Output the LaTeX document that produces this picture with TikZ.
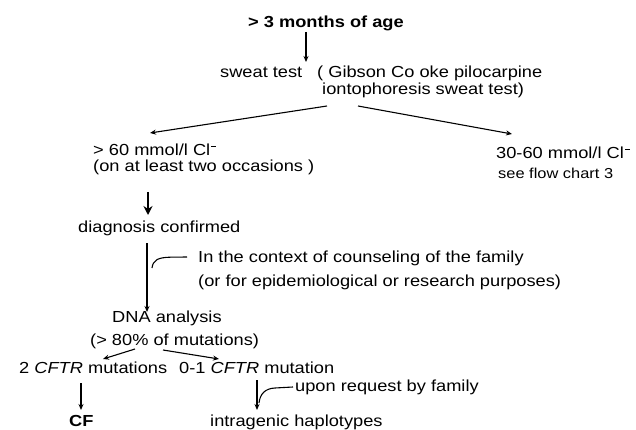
\documentclass[tikz,border=0pt]{standalone}
\usepackage{fontspec}
\setmainfont{Liberation Sans}[FakeStretch=1.14]
\usetikzlibrary{arrows.meta}
\newcommand{\clminus}{Cl\hspace{1pt}\rule[8.5pt]{5pt}{1.6pt}}
\begin{document}
\begin{tikzpicture}[x=1pt,y=-1pt,
  lbl/.style={inner sep=0pt, anchor=base west, font=\fontsize{16}{19}\selectfont},
  small/.style={lbl, font=\fontsize{14.4}{17}\selectfont},
  bold/.style={lbl, font=\fontsize{16}{19}\selectfont\bfseries},
  arr/.style={-{Stealth[length=6pt,width=5pt]}, line width=1.1pt},
  thickarr/.style={-{Stealth[length=9pt,width=9pt]}, line width=2pt},
  lead/.style={line width=1.1pt}]
\useasboundingbox (0,0) rectangle (636,430);
% texts
\node[bold] (age) at (248,28) {> 3 months of age};
\node[lbl] (sweat) at (220,78) {sweat test};
\node[lbl] (gib1) at (317,78) {( Gibson Co oke pilocarpine};
\node[lbl] (gib2) at (322,95) {iontophoresis sweat test)};
\node[lbl] (high) at (93,156) {> 60 mmol/l \clminus};
\node[lbl] (occ) at (93,172) {(on at least two occasions )};
\node[lbl] (mid) at (496,159) {30-60 mmol/l \clminus};
\node[small] (flow) at (498,179) {see flow chart 3};
\node[lbl] (diag) at (78,233) {diagnosis confirmed};
\node[lbl] (ctx1) at (198,262) {In the context of counseling of the family};
\node[lbl] (ctx2) at (198,286) {(or for epidemiological or research purposes)};
\node[lbl] (dna) at (112,322) {DNA analysis};
\node[lbl] (pct) at (90,345) {(> 80\% of mutations)};
\node[lbl] (two) at (19,373) {2 \textit{CFTR} mutations};
\node[lbl] (zero) at (179,373) {0-1 \textit{CFTR} mutation};
\node[lbl] (req) at (295,391) {upon request by family};
\node[bold] (cf) at (69,426) {CF};
\node[lbl] (hap) at (210,426) {intragenic haplotypes};
% connector points
\coordinate (a1) at (306,32);
\coordinate (a2) at (306,62);
\coordinate (s1) at (327,106);
\coordinate (s2) at (358,106);
\coordinate (h1) at (150,133);
\coordinate (m1) at (512,134);
\coordinate (o1) at (148,192);
\coordinate (o2) at (148,215);
\coordinate (d1) at (147,243);
\coordinate (d2) at (147,312);
\coordinate (c1) at (152,268);
\coordinate (c2) at (187,257);
\coordinate (p1) at (135,349);
\coordinate (p2) at (163,350);
\coordinate (t1) at (103,359);
\coordinate (z1) at (219,359);
\coordinate (t2) at (81,383);
\coordinate (t3) at (81,410);
\coordinate (z2) at (257,380);
\coordinate (z3) at (257,410);
\coordinate (r1) at (259,403);
\coordinate (r2) at (293,387);
% connectors
\draw[arr] (a1) -- (a2);
\draw[arr] (s1) -- (h1);
\draw[arr] (s2) -- (m1);
\draw[thickarr] (o1) -- (o2);
\draw[arr] (d1) -- (d2);
\draw[lead] (c1) .. controls (153,260) and (158,257.5) .. (170,257.2) -- (c2);
\draw[arr] (p1) -- (t1);
\draw[arr] (p2) -- (z1);
\draw[arr] (t2) -- (t3);
\draw[arr, line width=1.5pt] (z2) -- (z3);
\draw[lead] (r1) .. controls (260,394) and (265,388.5) .. (275,388) -- (r2);
\end{tikzpicture}
\end{document}
